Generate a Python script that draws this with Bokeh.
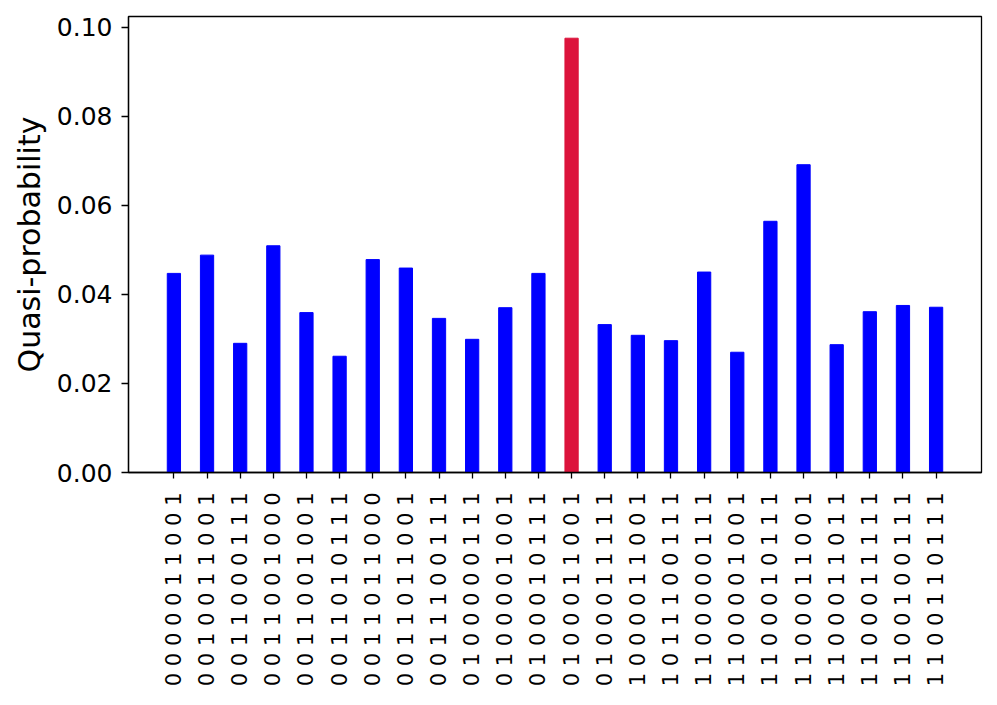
import math
from bokeh.plotting import figure
from bokeh.models import Range1d, FixedTicker, PrintfTickFormatter, ColumnDataSource
from bokeh.embed import file_html
from bokeh.resources import INLINE

# Data
bitstrings = [
    "0000011001", "0010011001", "0011000111", "0011001000",
    "0011001001", "0011010111", "0011011000", "0011011001",
    "0011100111", "0100000111", "0100001001", "0100010111",
    "0100011001", "0100011111", "1000011001", "1011100111",
    "1100000111", "1100001001", "1100010111", "1100011001",
    "1100011011", "1100011111", "1100100111", "1100110111",
]
quasi_prob = [
    0.0447, 0.0488, 0.0290, 0.0509,
    0.0359, 0.0261, 0.0478, 0.0459,
    0.0346, 0.0299, 0.0370, 0.0447,
    0.0975, 0.0332, 0.0308, 0.0296,
    0.0450, 0.0270, 0.0564, 0.0691,
    0.0287, 0.0361, 0.0375, 0.0371,
]
highlight = "0100011001"
y_ticks = [0.00, 0.02, 0.04, 0.06, 0.08, 0.10]

labels = [" ".join(b) for b in bitstrings]
idx = list(range(len(bitstrings)))
colors = ["#dc143c" if b == highlight else "#0000ff" for b in bitstrings]

src = ColumnDataSource(dict(x=idx, top=quasi_prob, color=colors))

n = len(bitstrings)
bw = 0.4
pad = 0.05 * (n - 1 + bw)
ymax = max(quasi_prob) * 1.05

p = figure(width=989, height=697, output_backend="svg", toolbar_location=None,
           x_range=Range1d(-bw / 2 - pad, n - 1 + bw / 2 + pad),
           y_range=Range1d(0, ymax),
           min_border_left=128, min_border_right=8, min_border_top=16,
           min_border_bottom=225)

p.vbar(x="x", top="top", width=bw, color="color", source=src)

p.xgrid.visible = False
p.ygrid.visible = False
p.outline_line_color = "black"
p.outline_line_width = 1.3
p.background_fill_color = "white"
p.border_fill_color = "white"

font = "DejaVu Sans"

xa = p.xaxis[0]
xa.ticker = FixedTicker(ticks=idx)
xa.major_label_overrides = {i: lab for i, lab in zip(idx, labels)}
xa.major_label_orientation = math.pi / 2
xa.major_label_text_font = font
xa.major_label_text_font_size = "21px"
xa.major_label_text_color = "black"
xa.major_tick_out = 6
xa.major_tick_in = 0
xa.minor_tick_out = 0
xa.minor_tick_in = 0
xa.major_label_standoff = 14
xa.axis_line_width = 1.3
xa.major_tick_line_width = 1.3

ya = p.yaxis[0]
ya.ticker = FixedTicker(ticks=y_ticks)
ya.formatter = PrintfTickFormatter(format="%.2f")
ya.major_label_text_font = font
ya.major_label_text_font_size = "25px"
ya.major_label_text_color = "black"
ya.major_tick_out = 7
ya.major_tick_in = 0
ya.minor_tick_out = 0
ya.minor_tick_in = 0
ya.major_label_standoff = 9
ya.axis_line_width = 1.3
ya.major_tick_line_width = 1.3
ya.axis_label = "Quasi-probability"
ya.axis_label_text_font = font
ya.axis_label_text_font_size = "30px"
ya.axis_label_text_font_style = "normal"
ya.axis_label_text_color = "black"
ya.axis_label_standoff = 7

open("out.html", "w").write(file_html(p, INLINE))
